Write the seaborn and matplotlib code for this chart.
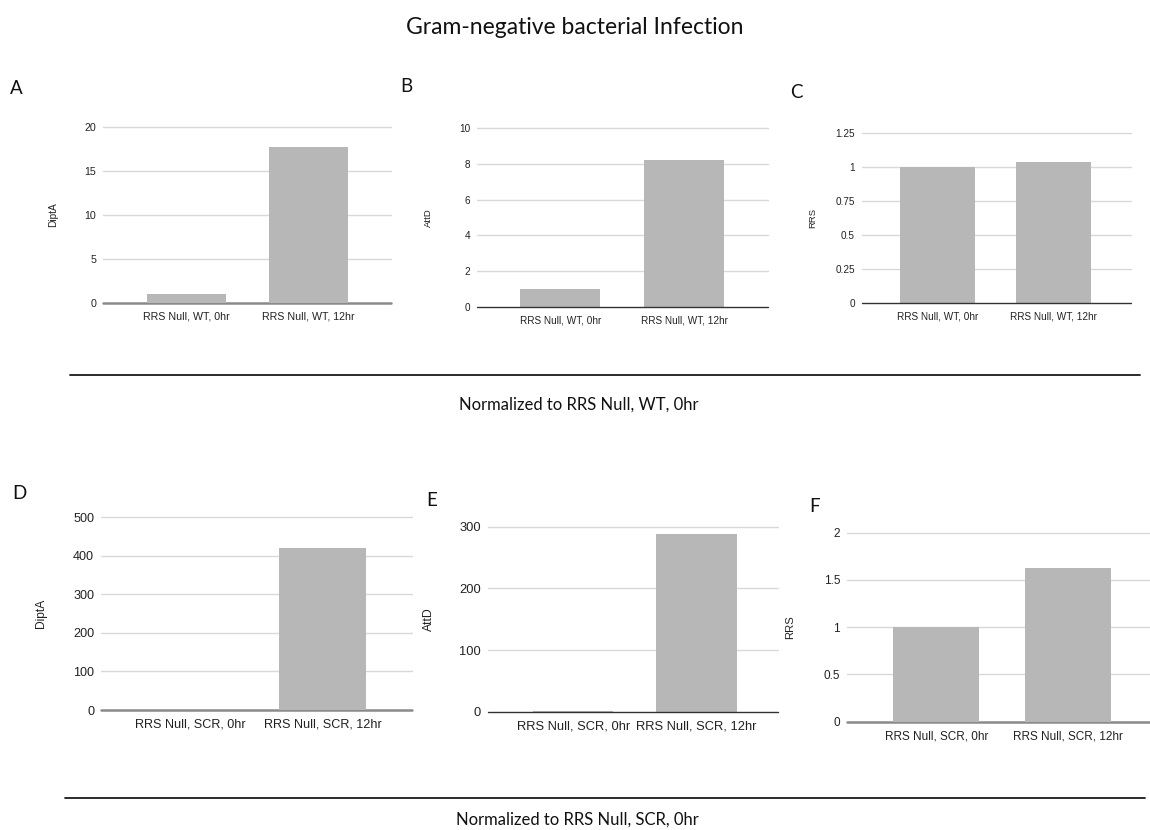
import matplotlib
matplotlib.use("Agg")
import matplotlib.pyplot as plt
import seaborn as sns
import pandas as pd
from matplotlib.ticker import FuncFormatter
from matplotlib.lines import Line2D

# ---------------- data ----------------
cats_wt = ["RRS Null, WT, 0hr", "RRS Null, WT, 12hr"]
cats_scr = ["RRS Null, SCR, 0hr", "RRS Null, SCR, 12hr"]
dipta_wt = [1.0, 17.8]
attd_wt = [1.0, 8.2]
rrs_wt = [1.0, 1.04]
dipta_scr = [1.0, 420.0]
attd_scr = [1.0, 288.0]
rrs_scr = [1.0, 1.63]

ticks_a = [0, 5, 10, 15, 20]
ticks_b = [0, 2, 4, 6, 8, 10]
ticks_c = [0, 0.25, 0.5, 0.75, 1, 1.25]
ticks_d = [0, 100, 200, 300, 400, 500]
ticks_e = [0, 100, 200, 300]
ticks_f = [0, 0.5, 1, 1.5, 2]

title = "Gram-negative bacterial Infection"
note_top = "Normalized to RRS Null, WT, 0hr"
note_bottom = "Normalized to RRS Null, SCR, 0hr"

# ---------------- style ----------------
sns.set_style("white")
plt.rcParams["font.family"] = ["Liberation Sans", "DejaVu Sans"]

W, H = 1150, 830
fig = plt.figure(figsize=(W / 100, H / 100), dpi=100)

BAR = "#b7b7b7"
GRID = "#d9d9d9"


def rect(left, right, top, bottom):
    return [left / W, 1 - bottom / H, (right - left) / W, (bottom - top) / H]


panels = [
    # letter, cats, values, ylabel, ticks, box(l,r,t,b), xlim, fs, ylabel_x, letter pos, baseline on top
    ("A", cats_wt, dipta_wt, "DiptA", ticks_a, (103, 391, 127.3, 302.7), (-0.683, 1.678), 7.7, 58, (16, 88), False),
    ("B", cats_wt, attd_wt, "AttD", ticks_b, (477, 768, 128.3, 306.7), (-0.673, 1.679), 7.2, 433, (406, 87), True),
    ("C", cats_wt, rrs_wt, "RRS", ticks_c, (862, 1131, 133.3, 303.3), (-0.651, 1.668), 7.2, 817, (796, 92), True),
    ("D", cats_scr, dipta_scr, "DiptA", ticks_d, (101, 412, 517.3, 710.0), (-0.672, 1.675), 9.1, 47, (19, 493), False),
    ("E", cats_scr, attd_scr, "AttD", ticks_e, (488, 778, 526.7, 711.7), (-0.69, 1.66), 9.3, 435, (432, 500), True),
    ("F", cats_scr, rrs_scr, "RRS", ticks_f, (847, 1150, 532.7, 721.7), (-0.678, 1.624), 8.5, 795, (815, 506), False),
]

fmt = FuncFormatter(lambda v, p: f"{v:g}")

for letter, cats, vals, ylab, ticks, box, xlim, fs, ylx, lpos, base_top in panels:
    l, r, t, b = box
    ax = fig.add_axes(rect(l, r, t, b))
    df = pd.DataFrame({"cat": cats, "val": vals})
    sns.barplot(data=df, x="cat", y="val", color=BAR, saturation=1, width=0.65,
                ax=ax, zorder=3, edgecolor="none")
    ax.set_xlim(*xlim)
    ax.set_ylim(ticks[0], ticks[-1])
    ax.set_yticks(ticks)
    ax.yaxis.set_major_formatter(fmt)
    for v in ticks[1:]:
        ax.axhline(v, color=GRID, lw=1.0, zorder=1, clip_on=False)
    if base_top:
        ax.axhline(0, color="#333333", lw=1.0, zorder=4, clip_on=False)
    else:
        ax.axhline(0, color="#8a8a8a", lw=1.8, zorder=2, clip_on=False)
    for s in ax.spines.values():
        s.set_visible(False)
    ax.tick_params(axis="both", length=0, labelsize=fs, colors="#222222")
    ax.tick_params(axis="y", pad=5)
    ax.tick_params(axis="x", pad=6)
    ax.set_xlabel("")
    ax.set_ylabel(ylab, fontsize=fs * 0.95, color="#222222")
    ax.yaxis.set_label_coords((ylx - l) / (r - l), 0.5)
    ax.grid(False)
    fig.text(lpos[0] / W, 1 - lpos[1] / H, letter, fontsize=13.5,
             family=["Lato", "DejaVu Sans"], ha="center", va="center", color="#111111")

# title
fig.text(0.5, 1 - 27 / H, title, fontsize=16.5, family=["Lato", "DejaVu Sans"],
         ha="center", va="center", color="#111111")

# separators and notes
fig.add_artist(Line2D([70 / W, 1140 / W], [1 - 375 / H, 1 - 375 / H], color="#1a1a1a", lw=1.3))
fig.text(579 / W, 1 - 405 / H, note_top, fontsize=12, family=["Lato", "DejaVu Sans"],
         ha="center", va="center", color="#111111")
fig.add_artist(Line2D([65 / W, 1145 / W], [1 - 798 / H, 1 - 798 / H], color="#1a1a1a", lw=1.3))
fig.text(577 / W, 1 - 820 / H, note_bottom, fontsize=12, family=["Lato", "DejaVu Sans"],
         ha="center", va="center", color="#111111")

fig.savefig("out.png", dpi=100, facecolor="white")
